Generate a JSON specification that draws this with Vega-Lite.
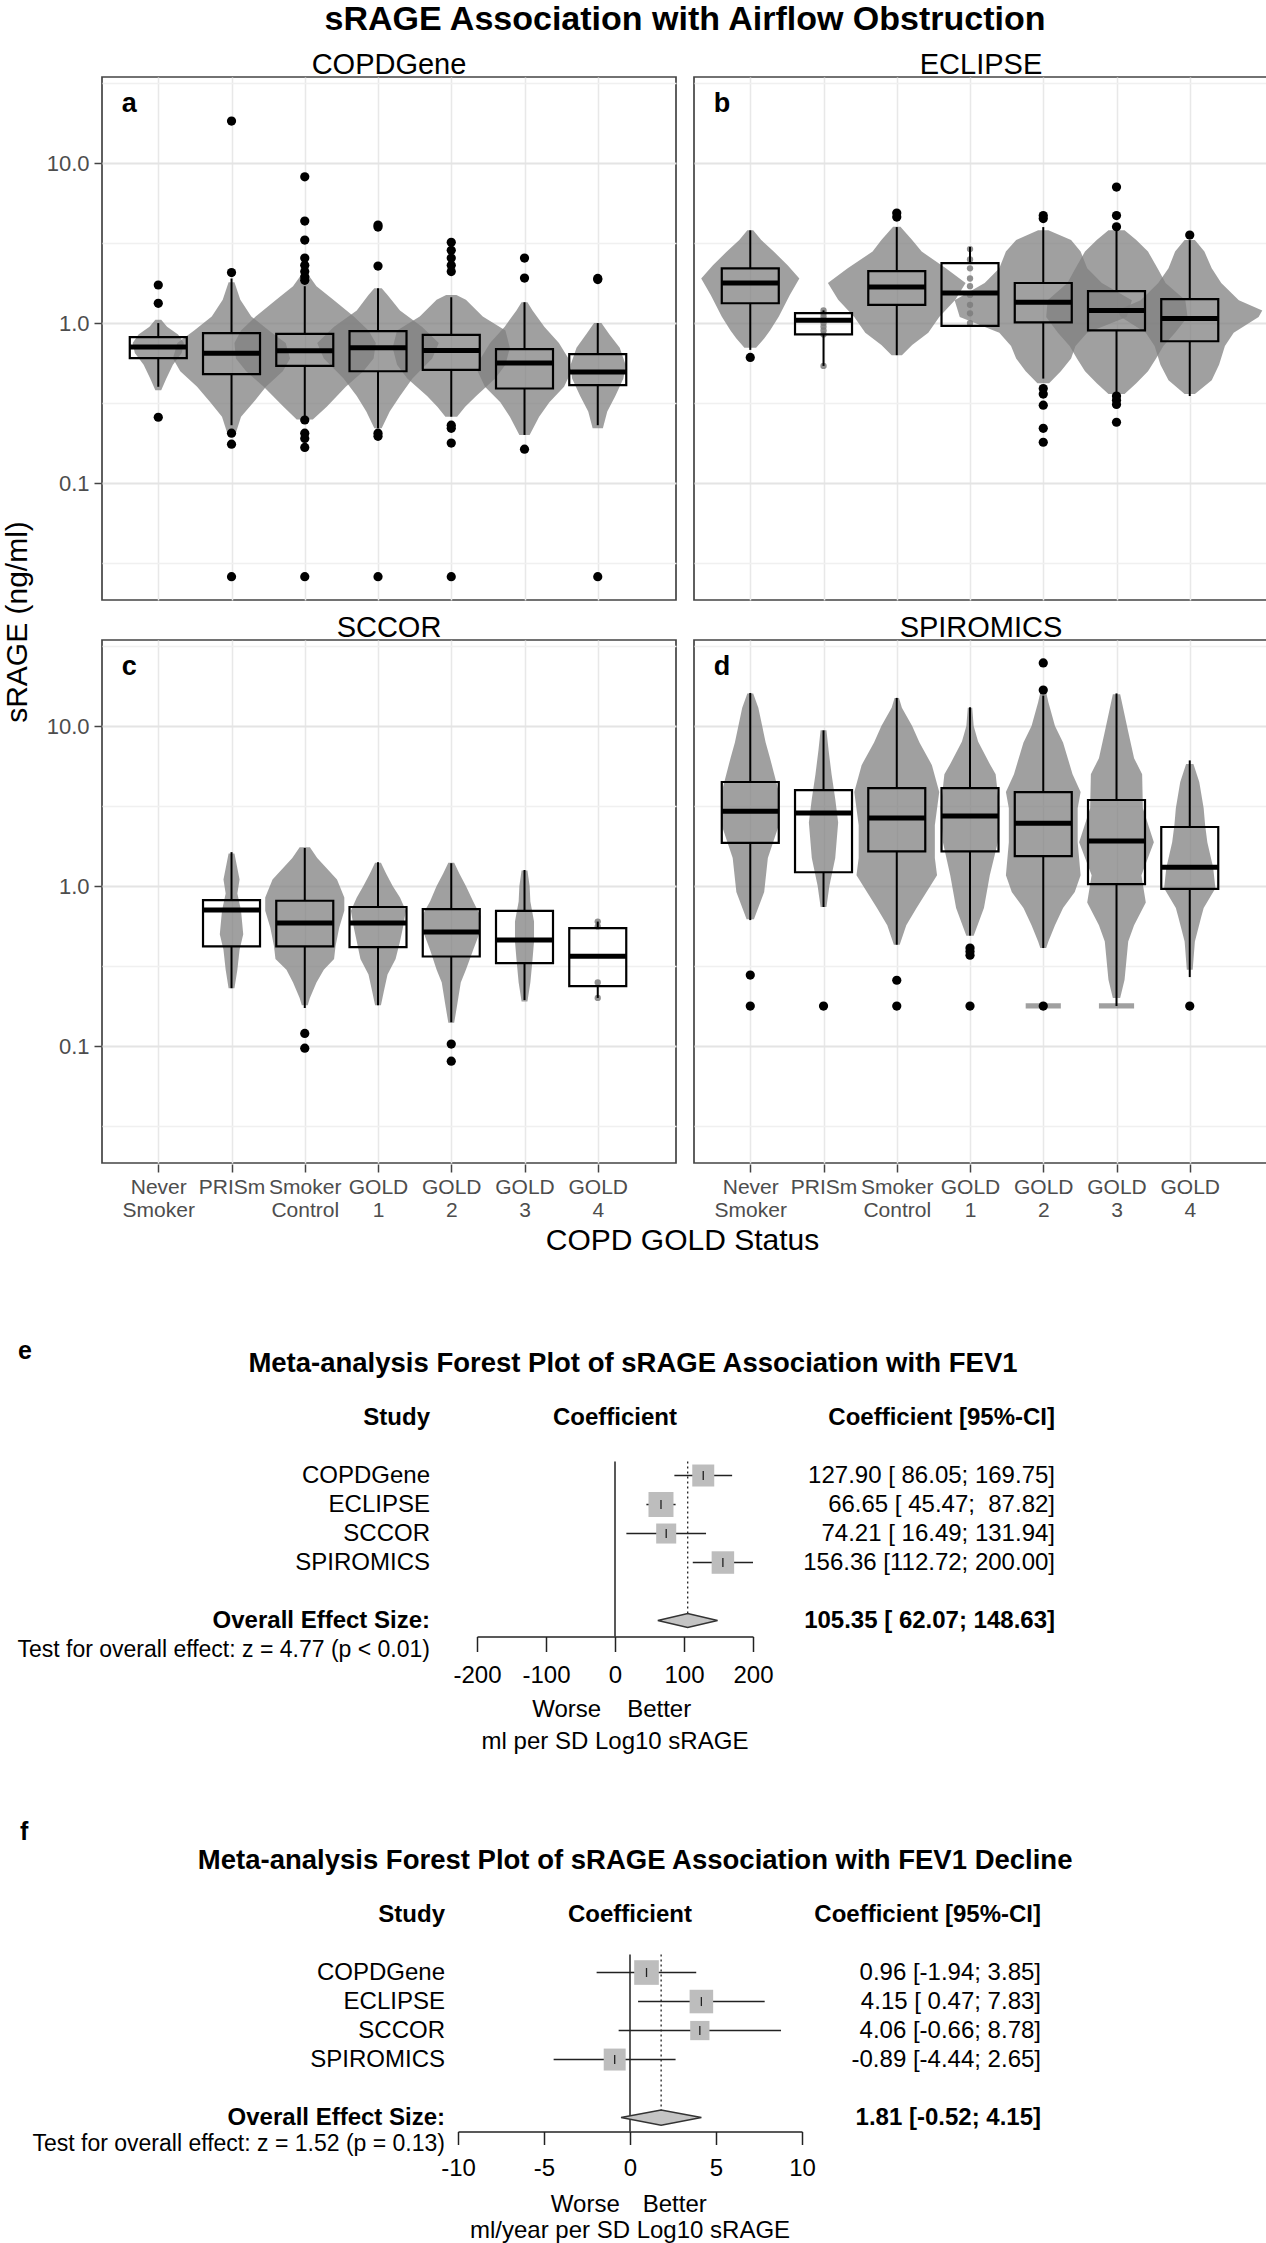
{
  "$schema": "https://vega.github.io/schema/vega-lite/v6.json",
  "padding": {"left": 0, "top": 3, "right": 0, "bottom": 0},
  "config": {
    "font": "Liberation Sans",
    "view": {"stroke": "#444444", "strokeWidth": 1.7}
  },
  "spacing": 82,
  "vconcat": [
    {
      "spacing": 6,
      "vconcat": [
        {
          "spacing": 13,
          "hconcat": [
            {
              "width": 32,
              "height": 1090,
              "view": {"stroke": null},
              "data": {"values": [{"t": "sRAGE (ng/ml)"}]},
              "mark": {"type": "text", "angle": 270, "fontSize": 30, "baseline": "middle", "align": "center", "color": "black", "dy": 2},
              "encoding": {"text": {"field": "t"}}
            },
            {
              "data": {"values": [
                {"k":"l","s":"COPDGene","t":"a"},{"k":"l","s":"ECLIPSE","t":"b"},{"k":"l","s":"SCCOR","t":"c"},{"k":"l","s":"SPIROMICS","t":"d"},

                {"k":"b","s":"COPDGene","c":1,"lo":0.40,"q1":0.604,"md":0.708,"q3":0.818,"hi":1.0},
                {"k":"b","s":"COPDGene","c":2,"lo":0.23,"q1":0.48,"md":0.649,"q3":0.866,"hi":1.9},
                {"k":"b","s":"COPDGene","c":3,"lo":0.26,"q1":0.54,"md":0.672,"q3":0.855,"hi":1.7},
                {"k":"b","s":"COPDGene","c":4,"lo":0.22,"q1":0.50,"md":0.70,"q3":0.89,"hi":1.65},
                {"k":"b","s":"COPDGene","c":5,"lo":0.26,"q1":0.51,"md":0.675,"q3":0.845,"hi":1.45},
                {"k":"b","s":"COPDGene","c":6,"lo":0.20,"q1":0.39,"md":0.563,"q3":0.688,"hi":1.35},
                {"k":"b","s":"COPDGene","c":7,"lo":0.23,"q1":0.41,"md":0.494,"q3":0.64,"hi":1.0},
                {"k":"b","s":"ECLIPSE","c":1,"lo":0.68,"q1":1.33,"md":1.78,"q3":2.2,"hi":3.8},
                {"k":"b","s":"ECLIPSE","c":2,"lo":0.54,"q1":0.85,"md":1.04,"q3":1.155,"hi":1.2},
                {"k":"b","s":"ECLIPSE","c":3,"lo":0.63,"q1":1.30,"md":1.68,"q3":2.11,"hi":3.98},
                {"k":"b","s":"ECLIPSE","c":4,"lo":0.96,"q1":0.96,"md":1.54,"q3":2.37,"hi":2.99},
                {"k":"b","s":"ECLIPSE","c":5,"lo":0.45,"q1":1.01,"md":1.35,"q3":1.78,"hi":3.98},
                {"k":"b","s":"ECLIPSE","c":6,"lo":0.365,"q1":0.90,"md":1.2,"q3":1.585,"hi":3.8},
                {"k":"b","s":"ECLIPSE","c":7,"lo":0.35,"q1":0.77,"md":1.07,"q3":1.41,"hi":3.3},
                {"k":"b","s":"SCCOR","c":2,"lo":0.23,"q1":0.42,"md":0.708,"q3":0.818,"hi":1.63},
                {"k":"b","s":"SCCOR","c":3,"lo":0.173,"q1":0.42,"md":0.587,"q3":0.81,"hi":1.73},
                {"k":"b","s":"SCCOR","c":4,"lo":0.18,"q1":0.415,"md":0.587,"q3":0.74,"hi":1.41},
                {"k":"b","s":"SCCOR","c":5,"lo":0.141,"q1":0.363,"md":0.516,"q3":0.718,"hi":1.39},
                {"k":"b","s":"SCCOR","c":6,"lo":0.194,"q1":0.33,"md":0.46,"q3":0.70,"hi":1.26},
                {"k":"b","s":"SCCOR","c":7,"lo":0.2,"q1":0.237,"md":0.365,"q3":0.546,"hi":0.6},
                {"k":"b","s":"SPIROMICS","c":1,"lo":0.613,"q1":1.86,"md":2.94,"q3":4.47,"hi":16.1},
                {"k":"b","s":"SPIROMICS","c":2,"lo":0.74,"q1":1.22,"md":2.86,"q3":3.98,"hi":9.4},
                {"k":"b","s":"SPIROMICS","c":3,"lo":0.43,"q1":1.65,"md":2.66,"q3":4.1,"hi":15},
                {"k":"b","s":"SPIROMICS","c":4,"lo":0.49,"q1":1.65,"md":2.74,"q3":4.1,"hi":13.1},
                {"k":"b","s":"SPIROMICS","c":5,"lo":0.41,"q1":1.54,"md":2.47,"q3":3.87,"hi":15.5},
                {"k":"b","s":"SPIROMICS","c":6,"lo":0.178,"q1":1.03,"md":1.91,"q3":3.45,"hi":16},
                {"k":"b","s":"SPIROMICS","c":7,"lo":0.27,"q1":0.96,"md":1.31,"q3":2.34,"hi":6.1},

                {"k":"o","s":"COPDGene","c":1,"v":1.73},{"k":"o","s":"COPDGene","c":1,"v":1.33},{"k":"o","s":"COPDGene","c":1,"v":0.258},
                {"k":"o","s":"COPDGene","c":2,"v":18.3},{"k":"o","s":"COPDGene","c":2,"v":2.07},{"k":"o","s":"COPDGene","c":2,"v":0.205},{"k":"o","s":"COPDGene","c":2,"v":0.175},{"k":"o","s":"COPDGene","c":2,"v":0.026},
                {"k":"o","s":"COPDGene","c":3,"v":8.2},{"k":"o","s":"COPDGene","c":3,"v":4.34},{"k":"o","s":"COPDGene","c":3,"v":3.3},{"k":"o","s":"COPDGene","c":3,"v":2.55},{"k":"o","s":"COPDGene","c":3,"v":2.3},{"k":"o","s":"COPDGene","c":3,"v":2.1},{"k":"o","s":"COPDGene","c":3,"v":1.95},{"k":"o","s":"COPDGene","c":3,"v":1.85},{"k":"o","s":"COPDGene","c":3,"v":0.248},{"k":"o","s":"COPDGene","c":3,"v":0.205},{"k":"o","s":"COPDGene","c":3,"v":0.19},{"k":"o","s":"COPDGene","c":3,"v":0.167},{"k":"o","s":"COPDGene","c":3,"v":0.026},
                {"k":"o","s":"COPDGene","c":4,"v":4.1},{"k":"o","s":"COPDGene","c":4,"v":3.98},{"k":"o","s":"COPDGene","c":4,"v":2.27},{"k":"o","s":"COPDGene","c":4,"v":0.205},{"k":"o","s":"COPDGene","c":4,"v":0.196},{"k":"o","s":"COPDGene","c":4,"v":0.026},
                {"k":"o","s":"COPDGene","c":5,"v":3.2},{"k":"o","s":"COPDGene","c":5,"v":2.85},{"k":"o","s":"COPDGene","c":5,"v":2.55},{"k":"o","s":"COPDGene","c":5,"v":2.3},{"k":"o","s":"COPDGene","c":5,"v":2.1},{"k":"o","s":"COPDGene","c":5,"v":0.23},{"k":"o","s":"COPDGene","c":5,"v":0.22},{"k":"o","s":"COPDGene","c":5,"v":0.178},{"k":"o","s":"COPDGene","c":5,"v":0.026},
                {"k":"o","s":"COPDGene","c":6,"v":2.55},{"k":"o","s":"COPDGene","c":6,"v":1.91},{"k":"o","s":"COPDGene","c":6,"v":0.163},
                {"k":"o","s":"COPDGene","c":7,"v":1.9},{"k":"o","s":"COPDGene","c":7,"v":1.87},{"k":"o","s":"COPDGene","c":7,"v":0.026},
                {"k":"o","s":"ECLIPSE","c":1,"v":0.61},
                {"k":"o","s":"ECLIPSE","c":3,"v":4.87},{"k":"o","s":"ECLIPSE","c":3,"v":4.6},
                {"k":"o","s":"ECLIPSE","c":5,"v":4.7},{"k":"o","s":"ECLIPSE","c":5,"v":4.5},{"k":"o","s":"ECLIPSE","c":5,"v":0.39},{"k":"o","s":"ECLIPSE","c":5,"v":0.36},{"k":"o","s":"ECLIPSE","c":5,"v":0.307},{"k":"o","s":"ECLIPSE","c":5,"v":0.22},{"k":"o","s":"ECLIPSE","c":5,"v":0.18},
                {"k":"o","s":"ECLIPSE","c":6,"v":7.08},{"k":"o","s":"ECLIPSE","c":6,"v":4.7},{"k":"o","s":"ECLIPSE","c":6,"v":4.0},{"k":"o","s":"ECLIPSE","c":6,"v":0.35},{"k":"o","s":"ECLIPSE","c":6,"v":0.33},{"k":"o","s":"ECLIPSE","c":6,"v":0.31},{"k":"o","s":"ECLIPSE","c":6,"v":0.24},
                {"k":"o","s":"ECLIPSE","c":7,"v":3.55},
                {"k":"o","s":"SCCOR","c":3,"v":0.12},{"k":"o","s":"SCCOR","c":3,"v":0.097},
                {"k":"o","s":"SCCOR","c":5,"v":0.103},{"k":"o","s":"SCCOR","c":5,"v":0.0805},
                {"k":"o","s":"SPIROMICS","c":1,"v":0.278},{"k":"o","s":"SPIROMICS","c":1,"v":0.178},
                {"k":"o","s":"SPIROMICS","c":2,"v":0.178},
                {"k":"o","s":"SPIROMICS","c":3,"v":0.258},{"k":"o","s":"SPIROMICS","c":3,"v":0.178},
                {"k":"o","s":"SPIROMICS","c":4,"v":0.41},{"k":"o","s":"SPIROMICS","c":4,"v":0.39},{"k":"o","s":"SPIROMICS","c":4,"v":0.37},{"k":"o","s":"SPIROMICS","c":4,"v":0.178},
                {"k":"o","s":"SPIROMICS","c":5,"v":24.8},{"k":"o","s":"SPIROMICS","c":5,"v":16.8},{"k":"o","s":"SPIROMICS","c":5,"v":0.178},
                {"k":"o","s":"SPIROMICS","c":7,"v":0.178},

                {"k":"p","s":"ECLIPSE","c":2,"v":1.2},{"k":"p","s":"ECLIPSE","c":2,"v":1.15},{"k":"p","s":"ECLIPSE","c":2,"v":1.1},{"k":"p","s":"ECLIPSE","c":2,"v":1.05},{"k":"p","s":"ECLIPSE","c":2,"v":1.0},{"k":"p","s":"ECLIPSE","c":2,"v":0.95},{"k":"p","s":"ECLIPSE","c":2,"v":0.9},{"k":"p","s":"ECLIPSE","c":2,"v":0.85},{"k":"p","s":"ECLIPSE","c":2,"v":0.54},
                {"k":"p","s":"ECLIPSE","c":4,"v":2.9},{"k":"p","s":"ECLIPSE","c":4,"v":2.5},{"k":"p","s":"ECLIPSE","c":4,"v":2.2},{"k":"p","s":"ECLIPSE","c":4,"v":1.9},{"k":"p","s":"ECLIPSE","c":4,"v":1.7},{"k":"p","s":"ECLIPSE","c":4,"v":1.5},{"k":"p","s":"ECLIPSE","c":4,"v":1.3},{"k":"p","s":"ECLIPSE","c":4,"v":1.15},{"k":"p","s":"ECLIPSE","c":4,"v":1.0},
                {"k":"p","s":"SCCOR","c":7,"v":0.6},{"k":"p","s":"SCCOR","c":7,"v":0.56},{"k":"p","s":"SCCOR","c":7,"v":0.25},{"k":"p","s":"SCCOR","c":7,"v":0.2},

                {"k":"c","s":"COPDGene","g":"1","v":0.38,"xl":0.96,"xr":1.04},{"k":"c","s":"COPDGene","g":"1","v":0.45,"xl":0.89,"xr":1.11},{"k":"c","s":"COPDGene","g":"1","v":0.55,"xl":0.80,"xr":1.20},{"k":"c","s":"COPDGene","g":"1","v":0.65,"xl":0.68,"xr":1.32},{"k":"c","s":"COPDGene","g":"1","v":0.75,"xl":0.65,"xr":1.35},{"k":"c","s":"COPDGene","g":"1","v":0.85,"xl":0.73,"xr":1.27},{"k":"c","s":"COPDGene","g":"1","v":0.95,"xl":0.88,"xr":1.12},{"k":"c","s":"COPDGene","g":"1","v":1.05,"xl":0.96,"xr":1.04},
                {"k":"c","s":"COPDGene","g":"2","v":0.2,"xl":1.95,"xr":2.05},{"k":"c","s":"COPDGene","g":"2","v":0.26,"xl":1.87,"xr":2.13},{"k":"c","s":"COPDGene","g":"2","v":0.32,"xl":1.71,"xr":2.30},{"k":"c","s":"COPDGene","g":"2","v":0.4,"xl":1.53,"xr":2.47},{"k":"c","s":"COPDGene","g":"2","v":0.5,"xl":1.30,"xr":2.70},{"k":"c","s":"COPDGene","g":"2","v":0.6,"xl":1.20,"xr":2.80},{"k":"c","s":"COPDGene","g":"2","v":0.75,"xl":1.26,"xr":2.74},{"k":"c","s":"COPDGene","g":"2","v":0.9,"xl":1.49,"xr":2.51},{"k":"c","s":"COPDGene","g":"2","v":1.1,"xl":1.73,"xr":2.27},{"k":"c","s":"COPDGene","g":"2","v":1.4,"xl":1.88,"xr":2.12},{"k":"c","s":"COPDGene","g":"2","v":1.8,"xl":1.96,"xr":2.04},
                {"k":"c","s":"COPDGene","g":"3","v":0.25,"xl":2.89,"xr":3.11},{"k":"c","s":"COPDGene","g":"3","v":0.3,"xl":2.71,"xr":3.30},{"k":"c","s":"COPDGene","g":"3","v":0.4,"xl":2.44,"xr":3.56},{"k":"c","s":"COPDGene","g":"3","v":0.5,"xl":2.20,"xr":3.80},{"k":"c","s":"COPDGene","g":"3","v":0.6,"xl":2.06,"xr":3.94},{"k":"c","s":"COPDGene","g":"3","v":0.75,"xl":2.04,"xr":3.97},{"k":"c","s":"COPDGene","g":"3","v":0.9,"xl":2.13,"xr":3.87},{"k":"c","s":"COPDGene","g":"3","v":1.1,"xl":2.33,"xr":3.67},{"k":"c","s":"COPDGene","g":"3","v":1.4,"xl":2.61,"xr":3.39},{"k":"c","s":"COPDGene","g":"3","v":1.7,"xl":2.84,"xr":3.16},{"k":"c","s":"COPDGene","g":"3","v":2.0,"xl":2.95,"xr":3.05},
                {"k":"c","s":"COPDGene","g":"4","v":0.22,"xl":3.95,"xr":4.05},{"k":"c","s":"COPDGene","g":"4","v":0.28,"xl":3.84,"xr":4.16},{"k":"c","s":"COPDGene","g":"4","v":0.35,"xl":3.71,"xr":4.30},{"k":"c","s":"COPDGene","g":"4","v":0.45,"xl":3.53,"xr":4.47},{"k":"c","s":"COPDGene","g":"4","v":0.6,"xl":3.26,"xr":4.74},{"k":"c","s":"COPDGene","g":"4","v":0.75,"xl":3.17,"xr":4.83},{"k":"c","s":"COPDGene","g":"4","v":0.95,"xl":3.40,"xr":4.60},{"k":"c","s":"COPDGene","g":"4","v":1.2,"xl":3.71,"xr":4.30},{"k":"c","s":"COPDGene","g":"4","v":1.5,"xl":3.87,"xr":4.13},{"k":"c","s":"COPDGene","g":"4","v":1.65,"xl":3.95,"xr":4.05},
                {"k":"c","s":"COPDGene","g":"5","v":0.26,"xl":4.92,"xr":5.08},{"k":"c","s":"COPDGene","g":"5","v":0.3,"xl":4.81,"xr":5.19},{"k":"c","s":"COPDGene","g":"5","v":0.35,"xl":4.67,"xr":5.34},{"k":"c","s":"COPDGene","g":"5","v":0.45,"xl":4.40,"xr":5.60},{"k":"c","s":"COPDGene","g":"5","v":0.55,"xl":4.26,"xr":5.74},{"k":"c","s":"COPDGene","g":"5","v":0.7,"xl":4.20,"xr":5.80},{"k":"c","s":"COPDGene","g":"5","v":0.9,"xl":4.26,"xr":5.74},{"k":"c","s":"COPDGene","g":"5","v":1.1,"xl":4.57,"xr":5.43},{"k":"c","s":"COPDGene","g":"5","v":1.4,"xl":4.80,"xr":5.20},{"k":"c","s":"COPDGene","g":"5","v":1.5,"xl":4.93,"xr":5.07},
                {"k":"c","s":"COPDGene","g":"6","v":0.2,"xl":5.93,"xr":6.07},{"k":"c","s":"COPDGene","g":"6","v":0.26,"xl":5.80,"xr":6.20},{"k":"c","s":"COPDGene","g":"6","v":0.32,"xl":5.67,"xr":6.34},{"k":"c","s":"COPDGene","g":"6","v":0.4,"xl":5.46,"xr":6.54},{"k":"c","s":"COPDGene","g":"6","v":0.5,"xl":5.36,"xr":6.64},{"k":"c","s":"COPDGene","g":"6","v":0.6,"xl":5.40,"xr":6.60},{"k":"c","s":"COPDGene","g":"6","v":0.75,"xl":5.53,"xr":6.47},{"k":"c","s":"COPDGene","g":"6","v":0.95,"xl":5.73,"xr":6.27},{"k":"c","s":"COPDGene","g":"6","v":1.2,"xl":5.89,"xr":6.11},{"k":"c","s":"COPDGene","g":"6","v":1.35,"xl":5.96,"xr":6.04},
                {"k":"c","s":"COPDGene","g":"7","v":0.22,"xl":6.93,"xr":7.07},{"k":"c","s":"COPDGene","g":"7","v":0.28,"xl":6.87,"xr":7.13},{"k":"c","s":"COPDGene","g":"7","v":0.35,"xl":6.76,"xr":7.24},{"k":"c","s":"COPDGene","g":"7","v":0.45,"xl":6.65,"xr":7.35},{"k":"c","s":"COPDGene","g":"7","v":0.55,"xl":6.63,"xr":7.38},{"k":"c","s":"COPDGene","g":"7","v":0.7,"xl":6.71,"xr":7.30},{"k":"c","s":"COPDGene","g":"7","v":0.85,"xl":6.84,"xr":7.16},{"k":"c","s":"COPDGene","g":"7","v":1.0,"xl":6.95,"xr":7.05},

                {"k":"c","s":"ECLIPSE","g":"1","v":0.7,"xl":0.92,"xr":1.08},{"k":"c","s":"ECLIPSE","g":"1","v":0.8,"xl":0.81,"xr":1.19},{"k":"c","s":"ECLIPSE","g":"1","v":0.9,"xl":0.73,"xr":1.27},{"k":"c","s":"ECLIPSE","g":"1","v":1.1,"xl":0.61,"xr":1.39},{"k":"c","s":"ECLIPSE","g":"1","v":1.5,"xl":0.46,"xr":1.54},{"k":"c","s":"ECLIPSE","g":"1","v":1.9,"xl":0.33,"xr":1.67},{"k":"c","s":"ECLIPSE","g":"1","v":2.3,"xl":0.49,"xr":1.51},{"k":"c","s":"ECLIPSE","g":"1","v":2.8,"xl":0.68,"xr":1.32},{"k":"c","s":"ECLIPSE","g":"1","v":3.3,"xl":0.85,"xr":1.15},{"k":"c","s":"ECLIPSE","g":"1","v":3.8,"xl":0.96,"xr":1.04},
                {"k":"c","s":"ECLIPSE","g":"3","v":0.63,"xl":2.93,"xr":3.07},{"k":"c","s":"ECLIPSE","g":"3","v":0.73,"xl":2.79,"xr":3.21},{"k":"c","s":"ECLIPSE","g":"3","v":0.87,"xl":2.57,"xr":3.43},{"k":"c","s":"ECLIPSE","g":"3","v":1.09,"xl":2.42,"xr":3.58},{"k":"c","s":"ECLIPSE","g":"3","v":1.4,"xl":2.20,"xr":3.80},{"k":"c","s":"ECLIPSE","g":"3","v":1.78,"xl":2.06,"xr":3.94},{"k":"c","s":"ECLIPSE","g":"3","v":2.2,"xl":2.33,"xr":3.67},{"k":"c","s":"ECLIPSE","g":"3","v":2.8,"xl":2.67,"xr":3.34},{"k":"c","s":"ECLIPSE","g":"3","v":3.3,"xl":2.79,"xr":3.21},{"k":"c","s":"ECLIPSE","g":"3","v":4.0,"xl":2.95,"xr":3.05},
                {"k":"c","s":"ECLIPSE","g":"5","v":0.42,"xl":4.92,"xr":5.08},{"k":"c","s":"ECLIPSE","g":"5","v":0.5,"xl":4.76,"xr":5.24},{"k":"c","s":"ECLIPSE","g":"5","v":0.6,"xl":4.63,"xr":5.38},{"k":"c","s":"ECLIPSE","g":"5","v":0.72,"xl":4.56,"xr":5.44},{"k":"c","s":"ECLIPSE","g":"5","v":0.87,"xl":4.40,"xr":5.60},{"k":"c","s":"ECLIPSE","g":"5","v":1.09,"xl":3.86,"xr":6.14},{"k":"c","s":"ECLIPSE","g":"5","v":1.39,"xl":3.79,"xr":6.21},{"k":"c","s":"ECLIPSE","g":"5","v":1.78,"xl":4.20,"xr":5.80},{"k":"c","s":"ECLIPSE","g":"5","v":2.2,"xl":4.40,"xr":5.60},{"k":"c","s":"ECLIPSE","g":"5","v":2.8,"xl":4.49,"xr":5.51},{"k":"c","s":"ECLIPSE","g":"5","v":3.3,"xl":4.63,"xr":5.38},{"k":"c","s":"ECLIPSE","g":"5","v":3.8,"xl":4.93,"xr":5.07},
                {"k":"c","s":"ECLIPSE","g":"6","v":0.36,"xl":5.89,"xr":6.11},{"k":"c","s":"ECLIPSE","g":"6","v":0.42,"xl":5.73,"xr":6.27},{"k":"c","s":"ECLIPSE","g":"6","v":0.5,"xl":5.57,"xr":6.43},{"k":"c","s":"ECLIPSE","g":"6","v":0.6,"xl":5.46,"xr":6.54},{"k":"c","s":"ECLIPSE","g":"6","v":0.72,"xl":5.36,"xr":6.64},{"k":"c","s":"ECLIPSE","g":"6","v":0.87,"xl":5.20,"xr":6.80},{"k":"c","s":"ECLIPSE","g":"6","v":1.09,"xl":5.04,"xr":6.97},{"k":"c","s":"ECLIPSE","g":"6","v":1.39,"xl":5.06,"xr":6.94},{"k":"c","s":"ECLIPSE","g":"6","v":1.78,"xl":5.33,"xr":6.67},{"k":"c","s":"ECLIPSE","g":"6","v":2.2,"xl":5.44,"xr":6.56},{"k":"c","s":"ECLIPSE","g":"6","v":2.8,"xl":5.57,"xr":6.43},{"k":"c","s":"ECLIPSE","g":"6","v":3.3,"xl":5.73,"xr":6.27},{"k":"c","s":"ECLIPSE","g":"6","v":3.8,"xl":5.89,"xr":6.11},
                {"k":"c","s":"ECLIPSE","g":"7","v":0.36,"xl":6.93,"xr":7.07},{"k":"c","s":"ECLIPSE","g":"7","v":0.44,"xl":6.71,"xr":7.30},{"k":"c","s":"ECLIPSE","g":"7","v":0.55,"xl":6.60,"xr":7.40},{"k":"c","s":"ECLIPSE","g":"7","v":0.72,"xl":6.52,"xr":7.48},{"k":"c","s":"ECLIPSE","g":"7","v":0.87,"xl":6.40,"xr":7.60},{"k":"c","s":"ECLIPSE","g":"7","v":1.09,"xl":6.06,"xr":7.94},{"k":"c","s":"ECLIPSE","g":"7","v":1.2,"xl":6.01,"xr":7.99},{"k":"c","s":"ECLIPSE","g":"7","v":1.39,"xl":6.33,"xr":7.67},{"k":"c","s":"ECLIPSE","g":"7","v":1.78,"xl":6.57,"xr":7.43},{"k":"c","s":"ECLIPSE","g":"7","v":2.2,"xl":6.71,"xr":7.30},{"k":"c","s":"ECLIPSE","g":"7","v":2.8,"xl":6.80,"xr":7.20},{"k":"c","s":"ECLIPSE","g":"7","v":3.3,"xl":6.93,"xr":7.07},

                {"k":"c","s":"SCCOR","g":"2","v":0.23,"xl":1.96,"xr":2.04},{"k":"c","s":"SCCOR","g":"2","v":0.3,"xl":1.92,"xr":2.08},{"k":"c","s":"SCCOR","g":"2","v":0.4,"xl":1.89,"xr":2.11},{"k":"c","s":"SCCOR","g":"2","v":0.5,"xl":1.84,"xr":2.16},{"k":"c","s":"SCCOR","g":"2","v":0.7,"xl":1.87,"xr":2.13},{"k":"c","s":"SCCOR","g":"2","v":0.9,"xl":1.92,"xr":2.08},{"k":"c","s":"SCCOR","g":"2","v":1.1,"xl":1.89,"xr":2.11},{"k":"c","s":"SCCOR","g":"2","v":1.6,"xl":1.96,"xr":2.04},
                {"k":"c","s":"SCCOR","g":"3","v":0.18,"xl":2.96,"xr":3.04},{"k":"c","s":"SCCOR","g":"3","v":0.2,"xl":2.93,"xr":3.07},{"k":"c","s":"SCCOR","g":"3","v":0.25,"xl":2.84,"xr":3.16},{"k":"c","s":"SCCOR","g":"3","v":0.3,"xl":2.75,"xr":3.26},{"k":"c","s":"SCCOR","g":"3","v":0.35,"xl":2.60,"xr":3.40},{"k":"c","s":"SCCOR","g":"3","v":0.42,"xl":2.58,"xr":3.42},{"k":"c","s":"SCCOR","g":"3","v":0.55,"xl":2.53,"xr":3.47},{"k":"c","s":"SCCOR","g":"3","v":0.7,"xl":2.46,"xr":3.54},{"k":"c","s":"SCCOR","g":"3","v":0.85,"xl":2.46,"xr":3.54},{"k":"c","s":"SCCOR","g":"3","v":1.1,"xl":2.56,"xr":3.44},{"k":"c","s":"SCCOR","g":"3","v":1.5,"xl":2.83,"xr":3.17},{"k":"c","s":"SCCOR","g":"3","v":1.75,"xl":2.93,"xr":3.07},
                {"k":"c","s":"SCCOR","g":"4","v":0.18,"xl":3.96,"xr":4.04},{"k":"c","s":"SCCOR","g":"4","v":0.22,"xl":3.92,"xr":4.08},{"k":"c","s":"SCCOR","g":"4","v":0.28,"xl":3.87,"xr":4.13},{"k":"c","s":"SCCOR","g":"4","v":0.35,"xl":3.76,"xr":4.24},{"k":"c","s":"SCCOR","g":"4","v":0.45,"xl":3.71,"xr":4.30},{"k":"c","s":"SCCOR","g":"4","v":0.55,"xl":3.67,"xr":4.34},{"k":"c","s":"SCCOR","g":"4","v":0.7,"xl":3.63,"xr":4.38},{"k":"c","s":"SCCOR","g":"4","v":0.85,"xl":3.71,"xr":4.30},{"k":"c","s":"SCCOR","g":"4","v":1.0,"xl":3.80,"xr":4.20},{"k":"c","s":"SCCOR","g":"4","v":1.2,"xl":3.89,"xr":4.11},{"k":"c","s":"SCCOR","g":"4","v":1.4,"xl":3.96,"xr":4.04},
                {"k":"c","s":"SCCOR","g":"5","v":0.14,"xl":4.96,"xr":5.04},{"k":"c","s":"SCCOR","g":"5","v":0.18,"xl":4.92,"xr":5.08},{"k":"c","s":"SCCOR","g":"5","v":0.25,"xl":4.87,"xr":5.13},{"k":"c","s":"SCCOR","g":"5","v":0.3,"xl":4.80,"xr":5.20},{"k":"c","s":"SCCOR","g":"5","v":0.4,"xl":4.71,"xr":5.30},{"k":"c","s":"SCCOR","g":"5","v":0.5,"xl":4.63,"xr":5.38},{"k":"c","s":"SCCOR","g":"5","v":0.65,"xl":4.60,"xr":5.40},{"k":"c","s":"SCCOR","g":"5","v":0.8,"xl":4.71,"xr":5.30},{"k":"c","s":"SCCOR","g":"5","v":1.0,"xl":4.80,"xr":5.20},{"k":"c","s":"SCCOR","g":"5","v":1.2,"xl":4.89,"xr":5.11},{"k":"c","s":"SCCOR","g":"5","v":1.4,"xl":4.96,"xr":5.04},
                {"k":"c","s":"SCCOR","g":"6","v":0.19,"xl":5.96,"xr":6.04},{"k":"c","s":"SCCOR","g":"6","v":0.25,"xl":5.92,"xr":6.08},{"k":"c","s":"SCCOR","g":"6","v":0.35,"xl":5.89,"xr":6.11},{"k":"c","s":"SCCOR","g":"6","v":0.45,"xl":5.87,"xr":6.13},{"k":"c","s":"SCCOR","g":"6","v":0.6,"xl":5.87,"xr":6.13},{"k":"c","s":"SCCOR","g":"6","v":0.8,"xl":5.92,"xr":6.08},{"k":"c","s":"SCCOR","g":"6","v":1.0,"xl":5.93,"xr":6.07},{"k":"c","s":"SCCOR","g":"6","v":1.25,"xl":5.96,"xr":6.04},

                {"k":"c","s":"SPIROMICS","g":"1","v":0.62,"xl":0.95,"xr":1.05},{"k":"c","s":"SPIROMICS","g":"1","v":0.92,"xl":0.81,"xr":1.19},{"k":"c","s":"SPIROMICS","g":"1","v":1.5,"xl":0.76,"xr":1.24},{"k":"c","s":"SPIROMICS","g":"1","v":2.4,"xl":0.61,"xr":1.39},{"k":"c","s":"SPIROMICS","g":"1","v":3.87,"xl":0.61,"xr":1.39},{"k":"c","s":"SPIROMICS","g":"1","v":6.3,"xl":0.73,"xr":1.27},{"k":"c","s":"SPIROMICS","g":"1","v":7.9,"xl":0.79,"xr":1.21},{"k":"c","s":"SPIROMICS","g":"1","v":13,"xl":0.89,"xr":1.11},{"k":"c","s":"SPIROMICS","g":"1","v":16,"xl":0.96,"xr":1.04},
                {"k":"c","s":"SPIROMICS","g":"2","v":0.74,"xl":1.96,"xr":2.04},{"k":"c","s":"SPIROMICS","g":"2","v":1.0,"xl":1.92,"xr":2.08},{"k":"c","s":"SPIROMICS","g":"2","v":1.5,"xl":1.84,"xr":2.16},{"k":"c","s":"SPIROMICS","g":"2","v":2.5,"xl":1.80,"xr":2.20},{"k":"c","s":"SPIROMICS","g":"2","v":3.5,"xl":1.84,"xr":2.16},{"k":"c","s":"SPIROMICS","g":"2","v":5,"xl":1.89,"xr":2.11},{"k":"c","s":"SPIROMICS","g":"2","v":7,"xl":1.93,"xr":2.07},{"k":"c","s":"SPIROMICS","g":"2","v":9.4,"xl":1.96,"xr":2.04},
                {"k":"c","s":"SPIROMICS","g":"3","v":0.43,"xl":2.96,"xr":3.04},{"k":"c","s":"SPIROMICS","g":"3","v":0.57,"xl":2.87,"xr":3.13},{"k":"c","s":"SPIROMICS","g":"3","v":0.73,"xl":2.73,"xr":3.27},{"k":"c","s":"SPIROMICS","g":"3","v":1.17,"xl":2.45,"xr":3.55},{"k":"c","s":"SPIROMICS","g":"3","v":1.5,"xl":2.48,"xr":3.52},{"k":"c","s":"SPIROMICS","g":"3","v":2.4,"xl":2.48,"xr":3.52},{"k":"c","s":"SPIROMICS","g":"3","v":3.87,"xl":2.42,"xr":3.58},{"k":"c","s":"SPIROMICS","g":"3","v":5.7,"xl":2.52,"xr":3.48},{"k":"c","s":"SPIROMICS","g":"3","v":7.9,"xl":2.69,"xr":3.31},{"k":"c","s":"SPIROMICS","g":"3","v":10,"xl":2.79,"xr":3.21},{"k":"c","s":"SPIROMICS","g":"3","v":13,"xl":2.93,"xr":3.07},{"k":"c","s":"SPIROMICS","g":"3","v":15,"xl":2.97,"xr":3.03},
                {"k":"c","s":"SPIROMICS","g":"4","v":0.49,"xl":3.95,"xr":4.05},{"k":"c","s":"SPIROMICS","g":"4","v":0.73,"xl":3.81,"xr":4.19},{"k":"c","s":"SPIROMICS","g":"4","v":1.17,"xl":3.73,"xr":4.27},{"k":"c","s":"SPIROMICS","g":"4","v":1.88,"xl":3.63,"xr":4.38},{"k":"c","s":"SPIROMICS","g":"4","v":3.07,"xl":3.60,"xr":4.40},{"k":"c","s":"SPIROMICS","g":"4","v":5,"xl":3.65,"xr":4.35},{"k":"c","s":"SPIROMICS","g":"4","v":5.8,"xl":3.73,"xr":4.27},{"k":"c","s":"SPIROMICS","g":"4","v":8,"xl":3.89,"xr":4.11},{"k":"c","s":"SPIROMICS","g":"4","v":10,"xl":3.95,"xr":4.05},{"k":"c","s":"SPIROMICS","g":"4","v":13,"xl":3.97,"xr":4.03},
                {"k":"c","s":"SPIROMICS","g":"5","v":0.41,"xl":4.96,"xr":5.04},{"k":"c","s":"SPIROMICS","g":"5","v":0.45,"xl":4.93,"xr":5.07},{"k":"c","s":"SPIROMICS","g":"5","v":0.57,"xl":4.84,"xr":5.16},{"k":"c","s":"SPIROMICS","g":"5","v":0.73,"xl":4.73,"xr":5.27},{"k":"c","s":"SPIROMICS","g":"5","v":0.92,"xl":4.57,"xr":5.43},{"k":"c","s":"SPIROMICS","g":"5","v":1.17,"xl":4.49,"xr":5.51},{"k":"c","s":"SPIROMICS","g":"5","v":1.88,"xl":4.53,"xr":5.47},{"k":"c","s":"SPIROMICS","g":"5","v":3.07,"xl":4.53,"xr":5.47},{"k":"c","s":"SPIROMICS","g":"5","v":3.87,"xl":4.49,"xr":5.51},{"k":"c","s":"SPIROMICS","g":"5","v":5,"xl":4.60,"xr":5.40},{"k":"c","s":"SPIROMICS","g":"5","v":7.9,"xl":4.73,"xr":5.27},{"k":"c","s":"SPIROMICS","g":"5","v":10,"xl":4.84,"xr":5.16},{"k":"c","s":"SPIROMICS","g":"5","v":14.1,"xl":4.93,"xr":5.07},{"k":"c","s":"SPIROMICS","g":"5","v":17,"xl":4.97,"xr":5.03},
                {"k":"c","s":"SPIROMICS","g":"5f","v":0.172,"xl":4.76,"xr":5.24},{"k":"c","s":"SPIROMICS","g":"5f","v":0.185,"xl":4.76,"xr":5.24},
                {"k":"c","s":"SPIROMICS","g":"6","v":0.2,"xl":5.95,"xr":6.05},{"k":"c","s":"SPIROMICS","g":"6","v":0.26,"xl":5.89,"xr":6.11},{"k":"c","s":"SPIROMICS","g":"6","v":0.45,"xl":5.84,"xr":6.16},{"k":"c","s":"SPIROMICS","g":"6","v":0.57,"xl":5.76,"xr":6.24},{"k":"c","s":"SPIROMICS","g":"6","v":0.79,"xl":5.60,"xr":6.40},{"k":"c","s":"SPIROMICS","g":"6","v":1.17,"xl":5.66,"xr":6.34},{"k":"c","s":"SPIROMICS","g":"6","v":1.88,"xl":5.49,"xr":6.51},{"k":"c","s":"SPIROMICS","g":"6","v":3.07,"xl":5.64,"xr":6.36},{"k":"c","s":"SPIROMICS","g":"6","v":5,"xl":5.65,"xr":6.35},{"k":"c","s":"SPIROMICS","g":"6","v":6.3,"xl":5.76,"xr":6.24},{"k":"c","s":"SPIROMICS","g":"6","v":9.2,"xl":5.84,"xr":6.16},{"k":"c","s":"SPIROMICS","g":"6","v":15.8,"xl":5.95,"xr":6.05},
                {"k":"c","s":"SPIROMICS","g":"6f","v":0.172,"xl":5.76,"xr":6.24},{"k":"c","s":"SPIROMICS","g":"6f","v":0.185,"xl":5.76,"xr":6.24},
                {"k":"c","s":"SPIROMICS","g":"7","v":0.3,"xl":6.96,"xr":7.04},{"k":"c","s":"SPIROMICS","g":"7","v":0.45,"xl":6.93,"xr":7.07},{"k":"c","s":"SPIROMICS","g":"7","v":0.65,"xl":6.84,"xr":7.16},{"k":"c","s":"SPIROMICS","g":"7","v":0.73,"xl":6.81,"xr":7.19},{"k":"c","s":"SPIROMICS","g":"7","v":0.97,"xl":6.65,"xr":7.35},{"k":"c","s":"SPIROMICS","g":"7","v":1.3,"xl":6.68,"xr":7.32},{"k":"c","s":"SPIROMICS","g":"7","v":1.88,"xl":6.76,"xr":7.24},{"k":"c","s":"SPIROMICS","g":"7","v":2.4,"xl":6.79,"xr":7.21},{"k":"c","s":"SPIROMICS","g":"7","v":3.07,"xl":6.81,"xr":7.19},{"k":"c","s":"SPIROMICS","g":"7","v":4.47,"xl":6.87,"xr":7.13},{"k":"c","s":"SPIROMICS","g":"7","v":5.8,"xl":6.95,"xr":7.05}
              ]},
              "facet": {
                "field": "s", "type": "nominal",
                "sort": ["COPDGene", "ECLIPSE", "SCCOR", "SPIROMICS"],
                "title": "sRAGE Association with Airflow Obstruction",
                "header": {
                  "labelFontSize": 29, "labelColor": "black", "labelPadding": -3, "labelFont": "Liberation Sans",
                  "titleFontSize": 34, "titleFontWeight": "bold", "titleColor": "black", "titlePadding": 13, "titleFont": "Liberation Sans"
                }
              },
              "columns": 2,
              "spacing": {"row": 12, "column": 16},
              "spec": {
                "width": 574,
                "height": 523,
                "layer": [
                  {
                    "transform": [{"filter": "datum.k == 'c'"}],
                    "mark": {"type": "area", "orient": "horizontal", "color": "#808080", "opacity": 0.75, "clip": true},
                    "encoding": {
                      "y": {"field": "v", "type": "quantitative", "title": null,
                        "scale": {"type": "log", "domain": [0.0186, 34.5], "nice": false},
                        "axis": {
                          "values": [0.031623, 0.1, 0.31623, 1, 3.1623, 10, 31.623],
                          "labelExpr": "datum.value == 10 ? '10.0' : datum.value == 1 ? '1.0' : datum.value == 0.1 ? '0.1' : ''",
                          "labelFontSize": 22, "labelColor": "#4d4d4d", "labelPadding": 5, "labelOverlap": false, "labelFlush": false, "labelBound": false,
                          "tickSize": 7, "tickWidth": 1.5,
                          "tickColor": {"condition": {"test": "datum.value == 10 || datum.value == 1 || datum.value == 0.1", "value": "#444444"}, "value": "transparent"},
                          "domain": false, "grid": true,
                          "gridColor": {"condition": {"test": "datum.value == 10 || datum.value == 1 || datum.value == 0.1", "value": "#e4e4e4"}, "value": "#f0f0f0"},
                          "gridWidth": {"condition": {"test": "datum.value == 10 || datum.value == 1 || datum.value == 0.1", "value": 2}, "value": 1.5},
                          "title": null
                        }
                      },
                      "x": {"field": "xl", "type": "quantitative", "title": null,
                        "scale": {"domain": [0.3, 8.0], "nice": false, "zero": false},
                        "axis": {
                          "values": [1, 2, 3, 4, 5, 6, 7],
                          "labelExpr": "datum.value == 1 ? ['Never', 'Smoker'] : datum.value == 2 ? 'PRISm' : datum.value == 3 ? ['Smoker', 'Control'] : ['GOLD', '' + (datum.value - 3)]",
                          "labelFontSize": 21, "labelColor": "#4d4d4d", "labelLineHeight": 23, "labelPadding": 4, "labelOverlap": false, "labelFlush": false, "labelBound": false,
                          "tickSize": 8, "tickWidth": 1.5, "tickColor": "#444444",
                          "domain": false, "grid": true, "gridColor": "#e8e8e8", "gridWidth": 1.5,
                          "title": null
                        }
                      },
                      "x2": {"field": "xr"},
                      "detail": {"field": "g"}
                    }
                  },
                  {
                    "transform": [{"filter": "datum.k == 'p'"}],
                    "mark": {"type": "circle", "size": 40, "color": "#7d7d7d", "opacity": 0.85},
                    "encoding": {
                      "x": {"field": "c", "type": "quantitative", "title": null},
                      "y": {"field": "v", "type": "quantitative", "title": null}
                    }
                  },
                  {
                    "transform": [{"filter": "datum.k == 'b'"}],
                    "mark": {"type": "rule", "color": "black", "strokeWidth": 2},
                    "encoding": {
                      "x": {"field": "c", "type": "quantitative", "title": null},
                      "y": {"field": "q3", "type": "quantitative", "title": null},
                      "y2": {"field": "hi"}
                    }
                  },
                  {
                    "transform": [{"filter": "datum.k == 'b'"}],
                    "mark": {"type": "rule", "color": "black", "strokeWidth": 2},
                    "encoding": {
                      "x": {"field": "c", "type": "quantitative", "title": null},
                      "y": {"field": "lo", "type": "quantitative", "title": null},
                      "y2": {"field": "q1"}
                    }
                  },
                  {
                    "transform": [{"filter": "datum.k == 'b'"}],
                    "mark": {"type": "bar", "size": 57, "fillOpacity": 0, "stroke": "black", "strokeWidth": 2.2},
                    "encoding": {
                      "x": {"field": "c", "type": "quantitative", "title": null},
                      "y": {"field": "q1", "type": "quantitative", "title": null},
                      "y2": {"field": "q3"}
                    }
                  },
                  {
                    "transform": [{"filter": "datum.k == 'b'"}],
                    "mark": {"type": "tick", "orient": "horizontal", "size": 57, "thickness": 5, "color": "black", "opacity": 1},
                    "encoding": {
                      "x": {"field": "c", "type": "quantitative", "title": null},
                      "y": {"field": "md", "type": "quantitative", "title": null}
                    }
                  },
                  {
                    "transform": [{"filter": "datum.k == 'o'"}],
                    "mark": {"type": "circle", "size": 85, "color": "black", "opacity": 1},
                    "encoding": {
                      "x": {"field": "c", "type": "quantitative", "title": null},
                      "y": {"field": "v", "type": "quantitative", "title": null}
                    }
                  },
                  {
                    "transform": [{"filter": "datum.k == 'l'"}],
                    "mark": {"type": "text", "fontSize": 27, "fontWeight": "bold", "align": "left", "baseline": "alphabetic", "color": "black"},
                    "encoding": {
                      "x": {"datum": 0.5, "type": "quantitative"},
                      "y": {"datum": 20.8, "type": "quantitative"},
                      "text": {"field": "t"}
                    }
                  }
                ]
              }
            }
          ]
        },
        {
          "width": 1265,
          "height": 30,
          "view": {"stroke": null},
          "data": {"values": [{"t": "COPD GOLD Status"}]},
          "mark": {"type": "text", "fontSize": 30, "baseline": "middle", "align": "center", "color": "black"},
          "encoding": {
            "x": {"datum": 682.5, "type": "quantitative", "scale": {"domain": [0, 1265], "nice": false, "zero": false}, "axis": null},
            "text": {"field": "t"}
          }
        }
      ]
    },
    {
      "spacing": 64,
      "vconcat": [
        {
          "bounds": "flush",
          "spacing": 47,
          "hconcat": [
            {
              "width": 430, "height": 261, "view": {"stroke": null},
              "layer": [
                {
                  "data": {"values": [
                    {"k": "h", "t": "Study", "r": 0},
                    {"k": "s", "t": "COPDGene", "r": 2},
                    {"k": "s", "t": "ECLIPSE", "r": 3},
                    {"k": "s", "t": "SCCOR", "r": 4},
                    {"k": "s", "t": "SPIROMICS", "r": 5},
                    {"k": "h", "t": "Overall Effect Size:", "r": 7},
                    {"k": "z", "t": "Test for overall effect: z = 4.77 (p < 0.01)", "r": 8}
                  ]},
                  "layer": [
                    {
                      "transform": [{"filter": "datum.k == 's'"}],
                      "mark": {"type": "text", "align": "right", "baseline": "middle", "fontSize": 24, "color": "black"},
                      "encoding": {
                        "x": {"datum": 1, "type": "quantitative", "scale": {"domain": [0, 1], "nice": false, "zero": false}, "axis": null},
                        "y": {"field": "r", "type": "quantitative", "scale": {"domain": [-0.5, 8.5], "reverse": true, "nice": false, "zero": false}, "axis": null},
                        "text": {"field": "t"}
                      }
                    },
                    {
                      "transform": [{"filter": "datum.k == 'h'"}],
                      "mark": {"type": "text", "align": "right", "baseline": "middle", "fontSize": 24, "fontWeight": "bold", "color": "black"},
                      "encoding": {
                        "x": {"datum": 1, "type": "quantitative", "axis": null},
                        "y": {"field": "r", "type": "quantitative", "axis": null},
                        "text": {"field": "t"}
                      }
                    },
                    {
                      "transform": [{"filter": "datum.k == 'z'"}],
                      "mark": {"type": "text", "align": "right", "baseline": "middle", "fontSize": 23, "color": "black"},
                      "encoding": {
                        "x": {"datum": 1, "type": "quantitative", "axis": null},
                        "y": {"field": "r", "type": "quantitative", "axis": null},
                        "text": {"field": "t"}
                      }
                    }
                  ]
                },
                {
                  "data": {"values": [{"t": "e"}]},
                  "mark": {"type": "text", "align": "left", "baseline": "middle", "fontSize": 25, "fontWeight": "bold", "color": "black"},
                  "encoding": {
                    "x": {"datum": 0.042, "type": "quantitative", "axis": null},
                    "y": {"datum": -2.3, "type": "quantitative", "axis": null},
                    "text": {"field": "t"}
                  }
                }
              ]
            },
            {
              "width": 276, "height": 233.5, "view": {"stroke": null},
              "layer": [
                {
                  "data": {"values": [
                    {"st": "COPDGene", "r": 2, "est": 127.90, "lo": 86.05, "hi": 169.75, "w": 24.0},
                    {"st": "ECLIPSE", "r": 3, "est": 66.65, "lo": 45.47, "hi": 87.82, "w": 31.0},
                    {"st": "SCCOR", "r": 4, "est": 74.21, "lo": 16.49, "hi": 131.94, "w": 19.9},
                    {"st": "SPIROMICS", "r": 5, "est": 156.36, "lo": 112.72, "hi": 200.00, "w": 25.1}
                  ]},
                  "layer": [
                    {
                      "mark": {"type": "rule", "color": "#222222", "strokeWidth": 1.5},
                      "encoding": {
                        "x": {"field": "lo", "type": "quantitative", "scale": {"domain": [-200, 200], "nice": false, "zero": false},
                          "axis": {"values": [-200, -100, 0, 100, 200], "labelExpr": "'' + datum.value", "title": null, "grid": false, "domainColor": "#222222", "domainWidth": 1.5, "tickColor": "#222222", "tickWidth": 1.5, "tickSize": 15, "labelFontSize": 24, "labelColor": "black", "labelPadding": 12, "labelFlush": false, "labelOverlap": false}},
                        "x2": {"field": "hi"},
                        "y": {"field": "r", "type": "quantitative", "scale": {"domain": [-0.5, 7.55], "reverse": true, "nice": false, "zero": false}, "axis": null}
                      }
                    },
                    {
                      "mark": {"type": "point", "shape": "square", "filled": true, "color": "#bdbdbd", "opacity": 1},
                      "encoding": {
                        "x": {"field": "est", "type": "quantitative", "title": null},
                        "y": {"field": "r", "type": "quantitative", "axis": null},
                        "size": {"field": "w", "type": "quantitative", "scale": {"domain": [0, 31], "range": [0, 625]}, "legend": null}
                      }
                    },
                    {
                      "mark": {"type": "tick", "orient": "vertical", "size": 9, "thickness": 1.3, "color": "#222222", "opacity": 1},
                      "encoding": {
                        "x": {"field": "est", "type": "quantitative", "title": null},
                        "y": {"field": "r", "type": "quantitative", "axis": null}
                      }
                    }
                  ]
                },
                {
                  "data": {"values": [{"x0": 0, "ya": 1.52, "yb": 7.55}]},
                  "mark": {"type": "rule", "color": "#222222", "strokeWidth": 1.5},
                  "encoding": {
                    "x": {"field": "x0", "type": "quantitative", "title": null},
                    "y": {"field": "ya", "type": "quantitative", "axis": null},
                    "y2": {"field": "yb"}
                  }
                },
                {
                  "data": {"values": [{"x0": 105.35, "ya": 1.52, "yb": 6.76}]},
                  "mark": {"type": "rule", "color": "#222222", "strokeWidth": 1.3, "strokeDash": [2, 3]},
                  "encoding": {
                    "x": {"field": "x0", "type": "quantitative", "title": null},
                    "y": {"field": "ya", "type": "quantitative", "axis": null},
                    "y2": {"field": "yb"}
                  }
                },
                {
                  "data": {"values": [
                    {"dx": 62.07, "ya": 7, "yb": 7},
                    {"dx": 105.35, "ya": 6.76, "yb": 7.24},
                    {"dx": 148.63, "ya": 7, "yb": 7}
                  ]},
                  "mark": {"type": "area", "orient": "vertical", "color": "#c4c4c4", "stroke": "#333333", "strokeWidth": 1.5, "opacity": 1},
                  "encoding": {
                    "x": {"field": "dx", "type": "quantitative", "title": null},
                    "y": {"field": "ya", "type": "quantitative", "axis": null},
                    "y2": {"field": "yb"}
                  }
                },
                {
                  "data": {"values": [{"t": "Coefficient"}]},
                  "mark": {"type": "text", "align": "center", "baseline": "middle", "fontSize": 24, "fontWeight": "bold", "color": "black"},
                  "encoding": {"x": {"datum": 0, "type": "quantitative"}, "y": {"datum": 0, "type": "quantitative", "axis": null}, "text": {"field": "t"}}
                },
                {
                  "data": {"values": [{"t": "Meta-analysis Forest Plot of sRAGE Association with FEV1"}]},
                  "mark": {"type": "text", "align": "center", "baseline": "middle", "fontSize": 27.5, "fontWeight": "bold", "color": "black"},
                  "encoding": {"x": {"datum": 26, "type": "quantitative"}, "y": {"datum": -1.86, "type": "quantitative", "axis": null}, "text": {"field": "t"}}
                },
                {
                  "data": {"values": [{"t": "Worse"}]},
                  "mark": {"type": "text", "align": "center", "baseline": "middle", "fontSize": 24, "color": "black"},
                  "encoding": {"x": {"datum": -70, "type": "quantitative"}, "y": {"datum": 10.1, "type": "quantitative", "axis": null}, "text": {"field": "t"}}
                },
                {
                  "data": {"values": [{"t": "Better"}]},
                  "mark": {"type": "text", "align": "center", "baseline": "middle", "fontSize": 24, "color": "black"},
                  "encoding": {"x": {"datum": 64, "type": "quantitative"}, "y": {"datum": 10.1, "type": "quantitative", "axis": null}, "text": {"field": "t"}}
                },
                {
                  "data": {"values": [{"t": "ml per SD Log10 sRAGE"}]},
                  "mark": {"type": "text", "align": "center", "baseline": "middle", "fontSize": 24, "color": "black"},
                  "encoding": {"x": {"datum": 0, "type": "quantitative"}, "y": {"datum": 11.2, "type": "quantitative", "axis": null}, "text": {"field": "t"}}
                }
              ]
            },
            {
              "width": 255, "height": 233.5, "view": {"stroke": null},
              "data": {"values": [
                {"k": "h", "t": "Coefficient [95%-CI]", "r": 0},
                {"k": "s", "t": "127.90 [ 86.05; 169.75]", "r": 2},
                {"k": "s", "t": "66.65 [ 45.47; \u00a087.82]", "r": 3},
                {"k": "s", "t": "74.21 [ 16.49; 131.94]", "r": 4},
                {"k": "s", "t": "156.36 [112.72; 200.00]", "r": 5},
                {"k": "h", "t": "105.35 [ 62.07; 148.63]", "r": 7}
              ]},
              "layer": [
                {
                  "transform": [{"filter": "datum.k == 's'"}],
                  "mark": {"type": "text", "align": "right", "baseline": "middle", "fontSize": 24, "color": "black"},
                  "encoding": {
                    "x": {"datum": 1, "type": "quantitative", "scale": {"domain": [0, 1], "nice": false, "zero": false}, "axis": null},
                    "y": {"field": "r", "type": "quantitative", "scale": {"domain": [-0.5, 7.55], "reverse": true, "nice": false, "zero": false}, "axis": null},
                    "text": {"field": "t"}
                  }
                },
                {
                  "transform": [{"filter": "datum.k == 'h'"}],
                  "mark": {"type": "text", "align": "right", "baseline": "middle", "fontSize": 24, "fontWeight": "bold", "color": "black"},
                  "encoding": {
                    "x": {"datum": 1, "type": "quantitative", "axis": null},
                    "y": {"field": "r", "type": "quantitative", "axis": null},
                    "text": {"field": "t"}
                  }
                }
              ]
            }
          ]
        },
        {
          "bounds": "flush",
          "spacing": 13,
          "hconcat": [
            {
              "width": 445, "height": 261, "view": {"stroke": null},
              "layer": [
                {
                  "data": {"values": [
                    {"k": "h", "t": "Study", "r": 0},
                    {"k": "s", "t": "COPDGene", "r": 2},
                    {"k": "s", "t": "ECLIPSE", "r": 3},
                    {"k": "s", "t": "SCCOR", "r": 4},
                    {"k": "s", "t": "SPIROMICS", "r": 5},
                    {"k": "h", "t": "Overall Effect Size:", "r": 7},
                    {"k": "z", "t": "Test for overall effect: z = 1.52 (p = 0.13)", "r": 7.9}
                  ]},
                  "layer": [
                    {
                      "transform": [{"filter": "datum.k == 's'"}],
                      "mark": {"type": "text", "align": "right", "baseline": "middle", "fontSize": 24, "color": "black"},
                      "encoding": {
                        "x": {"datum": 1, "type": "quantitative", "scale": {"domain": [0, 1], "nice": false, "zero": false}, "axis": null},
                        "y": {"field": "r", "type": "quantitative", "scale": {"domain": [-0.5, 8.5], "reverse": true, "nice": false, "zero": false}, "axis": null},
                        "text": {"field": "t"}
                      }
                    },
                    {
                      "transform": [{"filter": "datum.k == 'h'"}],
                      "mark": {"type": "text", "align": "right", "baseline": "middle", "fontSize": 24, "fontWeight": "bold", "color": "black"},
                      "encoding": {
                        "x": {"datum": 1, "type": "quantitative", "axis": null},
                        "y": {"field": "r", "type": "quantitative", "axis": null},
                        "text": {"field": "t"}
                      }
                    },
                    {
                      "transform": [{"filter": "datum.k == 'z'"}],
                      "mark": {"type": "text", "align": "right", "baseline": "middle", "fontSize": 23, "color": "black"},
                      "encoding": {
                        "x": {"datum": 1, "type": "quantitative", "axis": null},
                        "y": {"field": "r", "type": "quantitative", "axis": null},
                        "text": {"field": "t"}
                      }
                    }
                  ]
                },
                {
                  "data": {"values": [{"t": "f"}]},
                  "mark": {"type": "text", "align": "left", "baseline": "middle", "fontSize": 25, "fontWeight": "bold", "color": "black"},
                  "encoding": {
                    "x": {"datum": 0.045, "type": "quantitative", "axis": null},
                    "y": {"datum": -2.86, "type": "quantitative", "axis": null},
                    "text": {"field": "t"}
                  }
                }
              ]
            },
            {
              "width": 344, "height": 231.5, "view": {"stroke": null},
              "layer": [
                {
                  "data": {"values": [
                    {"st": "COPDGene", "r": 2, "est": 0.96, "lo": -1.94, "hi": 3.85, "w": 30.1},
                    {"st": "ECLIPSE", "r": 3, "est": 4.15, "lo": 0.47, "hi": 7.83, "w": 27.5},
                    {"st": "SCCOR", "r": 4, "est": 4.06, "lo": -0.66, "hi": 8.78, "w": 18.4},
                    {"st": "SPIROMICS", "r": 5, "est": -0.89, "lo": -4.44, "hi": 2.65, "w": 23.9}
                  ]},
                  "layer": [
                    {
                      "mark": {"type": "rule", "color": "#222222", "strokeWidth": 1.5},
                      "encoding": {
                        "x": {"field": "lo", "type": "quantitative", "scale": {"domain": [-10, 10], "nice": false, "zero": false},
                          "axis": {"values": [-10, -5, 0, 5, 10], "labelExpr": "'' + datum.value", "title": null, "grid": false, "domainColor": "#222222", "domainWidth": 1.5, "tickColor": "#222222", "tickWidth": 1.5, "tickSize": 13, "labelFontSize": 24, "labelColor": "black", "labelPadding": 12, "labelFlush": false, "labelOverlap": false}},
                        "x2": {"field": "hi"},
                        "y": {"field": "r", "type": "quantitative", "scale": {"domain": [-0.5, 7.48], "reverse": true, "nice": false, "zero": false}, "axis": null}
                      }
                    },
                    {
                      "mark": {"type": "point", "shape": "square", "filled": true, "color": "#bdbdbd", "opacity": 1},
                      "encoding": {
                        "x": {"field": "est", "type": "quantitative", "title": null},
                        "y": {"field": "r", "type": "quantitative", "axis": null},
                        "size": {"field": "w", "type": "quantitative", "scale": {"domain": [0, 30.1], "range": [0, 529]}, "legend": null}
                      }
                    },
                    {
                      "mark": {"type": "tick", "orient": "vertical", "size": 9, "thickness": 1.3, "color": "#222222", "opacity": 1},
                      "encoding": {
                        "x": {"field": "est", "type": "quantitative", "title": null},
                        "y": {"field": "r", "type": "quantitative", "axis": null}
                      }
                    }
                  ]
                },
                {
                  "data": {"values": [{"x0": 0, "ya": 1.38, "yb": 7.48}]},
                  "mark": {"type": "rule", "color": "#222222", "strokeWidth": 1.5},
                  "encoding": {
                    "x": {"field": "x0", "type": "quantitative", "title": null},
                    "y": {"field": "ya", "type": "quantitative", "axis": null},
                    "y2": {"field": "yb"}
                  }
                },
                {
                  "data": {"values": [{"x0": 1.81, "ya": 1.38, "yb": 6.74}]},
                  "mark": {"type": "rule", "color": "#222222", "strokeWidth": 1.3, "strokeDash": [2, 3]},
                  "encoding": {
                    "x": {"field": "x0", "type": "quantitative", "title": null},
                    "y": {"field": "ya", "type": "quantitative", "axis": null},
                    "y2": {"field": "yb"}
                  }
                },
                {
                  "data": {"values": [
                    {"dx": -0.52, "ya": 7, "yb": 7},
                    {"dx": 1.81, "ya": 6.74, "yb": 7.26},
                    {"dx": 4.15, "ya": 7, "yb": 7}
                  ]},
                  "mark": {"type": "area", "orient": "vertical", "color": "#c4c4c4", "stroke": "#333333", "strokeWidth": 1.5, "opacity": 1},
                  "encoding": {
                    "x": {"field": "dx", "type": "quantitative", "title": null},
                    "y": {"field": "ya", "type": "quantitative", "axis": null},
                    "y2": {"field": "yb"}
                  }
                },
                {
                  "data": {"values": [{"t": "Coefficient"}]},
                  "mark": {"type": "text", "align": "center", "baseline": "middle", "fontSize": 24, "fontWeight": "bold", "color": "black"},
                  "encoding": {"x": {"datum": 0, "type": "quantitative"}, "y": {"datum": 0, "type": "quantitative", "axis": null}, "text": {"field": "t"}}
                },
                {
                  "data": {"values": [{"t": "Meta-analysis Forest Plot of sRAGE Association with FEV1 Decline"}]},
                  "mark": {"type": "text", "align": "center", "baseline": "middle", "fontSize": 27.5, "fontWeight": "bold", "color": "black"},
                  "encoding": {"x": {"datum": 0.3, "type": "quantitative"}, "y": {"datum": -1.83, "type": "quantitative", "axis": null}, "text": {"field": "t"}}
                },
                {
                  "data": {"values": [{"t": "Worse"}]},
                  "mark": {"type": "text", "align": "center", "baseline": "middle", "fontSize": 24, "color": "black"},
                  "encoding": {"x": {"datum": -2.6, "type": "quantitative"}, "y": {"datum": 10.0, "type": "quantitative", "axis": null}, "text": {"field": "t"}}
                },
                {
                  "data": {"values": [{"t": "Better"}]},
                  "mark": {"type": "text", "align": "center", "baseline": "middle", "fontSize": 24, "color": "black"},
                  "encoding": {"x": {"datum": 2.6, "type": "quantitative"}, "y": {"datum": 10.0, "type": "quantitative", "axis": null}, "text": {"field": "t"}}
                },
                {
                  "data": {"values": [{"t": "ml/year per SD Log10 sRAGE"}]},
                  "mark": {"type": "text", "align": "center", "baseline": "middle", "fontSize": 24, "color": "black"},
                  "encoding": {"x": {"datum": 0, "type": "quantitative"}, "y": {"datum": 10.9, "type": "quantitative", "axis": null}, "text": {"field": "t"}}
                }
              ]
            },
            {
              "width": 226, "height": 231.5, "view": {"stroke": null},
              "data": {"values": [
                {"k": "h", "t": "Coefficient [95%-CI]", "r": 0},
                {"k": "s", "t": "0.96 [-1.94; 3.85]", "r": 2},
                {"k": "s", "t": "4.15 [ 0.47; 7.83]", "r": 3},
                {"k": "s", "t": "4.06 [-0.66; 8.78]", "r": 4},
                {"k": "s", "t": "-0.89 [-4.44; 2.65]", "r": 5},
                {"k": "h", "t": "1.81 [-0.52; 4.15]", "r": 7}
              ]},
              "layer": [
                {
                  "transform": [{"filter": "datum.k == 's'"}],
                  "mark": {"type": "text", "align": "right", "baseline": "middle", "fontSize": 24, "color": "black"},
                  "encoding": {
                    "x": {"datum": 1, "type": "quantitative", "scale": {"domain": [0, 1], "nice": false, "zero": false}, "axis": null},
                    "y": {"field": "r", "type": "quantitative", "scale": {"domain": [-0.5, 7.48], "reverse": true, "nice": false, "zero": false}, "axis": null},
                    "text": {"field": "t"}
                  }
                },
                {
                  "transform": [{"filter": "datum.k == 'h'"}],
                  "mark": {"type": "text", "align": "right", "baseline": "middle", "fontSize": 24, "fontWeight": "bold", "color": "black"},
                  "encoding": {
                    "x": {"datum": 1, "type": "quantitative", "axis": null},
                    "y": {"field": "r", "type": "quantitative", "axis": null},
                    "text": {"field": "t"}
                  }
                }
              ]
            }
          ]
        }
      ]
    }
  ]
}
